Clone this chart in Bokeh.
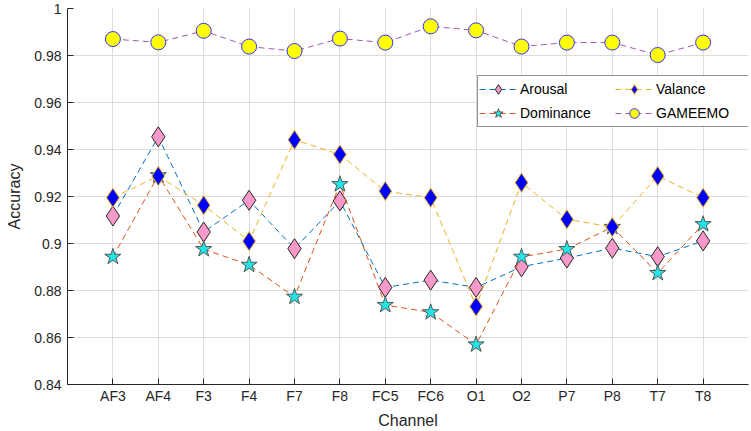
from bokeh.plotting import figure
from bokeh.models import FixedTicker, Legend, LegendItem, Range1d
from bokeh.embed import file_html
from bokeh.resources import INLINE

channels = ["AF3", "AF4", "F3", "F4", "F7", "F8", "FC5", "FC6", "O1", "O2", "P7", "P8", "T7", "T8"]
arousal = [0.9117, 0.9454, 0.9049, 0.9184, 0.8978, 0.9181, 0.8813, 0.8844, 0.8813, 0.8901, 0.8938, 0.8980, 0.8944, 0.9011]
dominance = [0.8943, 0.9290, 0.8976, 0.8909, 0.8773, 0.9252, 0.8738, 0.8707, 0.8570, 0.8943, 0.8976, 0.9070, 0.8874, 0.9082]
valance = [0.9195, 0.9287, 0.9163, 0.9010, 0.9441, 0.9379, 0.9223, 0.9195, 0.8732, 0.9259, 0.9103, 0.9070, 0.9287, 0.9195]
gameemo = [0.9870, 0.9856, 0.9905, 0.9838, 0.9819, 0.9872, 0.9855, 0.9924, 0.9907, 0.9838, 0.9855, 0.9855, 0.9802, 0.9855]
y_ticks = [0.84, 0.86, 0.88, 0.9, 0.92, 0.94, 0.96, 0.98, 1.0]
y_tick_labels = ["0.84", "0.86", "0.88", "0.9", "0.92", "0.94", "0.96", "0.98", "1"]

xs = list(range(1, len(channels) + 1))
FONT = "Liberation Sans"

p = figure(width=751, height=431, output_backend="svg", toolbar_location=None,
           x_range=Range1d(0, 15), y_range=Range1d(0.84, 1.0),
           min_border_left=67, min_border_right=3, min_border_top=8, min_border_bottom=47)
p.outline_line_color = None
p.background_fill_color = "white"
p.border_fill_color = "white"

for ax in (p.xaxis[0], p.yaxis[0]):
    ax.axis_line_color = "#262626"
    ax.axis_line_width = 1
    ax.major_tick_line_color = "#262626"
    ax.major_tick_in = 6
    ax.major_tick_out = 0
    ax.minor_tick_line_color = None
    ax.major_label_text_font = FONT
    ax.major_label_text_font_size = "14px"
    ax.major_label_text_color = "#262626"
    ax.axis_label_text_font = FONT
    ax.axis_label_text_font_size = "16px"
    ax.axis_label_text_font_style = "normal"
    ax.axis_label_text_color = "#262626"

p.xaxis.ticker = FixedTicker(ticks=xs)
p.xaxis.major_label_overrides = {x: c for x, c in zip(xs, channels)}
p.xaxis.axis_label = "Channel"
p.xaxis.major_label_standoff = 3
p.xaxis.axis_label_standoff = 5
p.yaxis.ticker = FixedTicker(ticks=y_ticks)
p.yaxis.major_label_overrides = {t: l for t, l in zip(y_ticks, y_tick_labels)}
p.yaxis.axis_label = "Accuracy"
p.yaxis.major_label_standoff = 6
p.yaxis.axis_label_standoff = 8

p.xgrid.grid_line_color = "#dcdcdc"
p.ygrid.grid_line_color = "#dcdcdc"

series = [
    ("Arousal", arousal, "#0072BD", "diamond", 20, "#F799C9", "#262626"),
    ("Dominance", dominance, "#D95319", "star", 17, "#22E5E8", "#555555"),
    ("Valance", valance, "#EDB120", "diamond", 19, "#0000FF", "#EDB120"),
    ("GAMEEMO", gameemo, "#9E5AB0", "circle", 15, "#FFFF00", "#3333FF"),
]

items = {}
for name, vals, lc, marker, size, fc, ec in series:
    ln = p.line(xs, vals, line_color=lc, line_width=1, line_dash="6 4")
    sc = p.scatter(xs, vals, marker=marker, size=size, fill_color=fc, line_color=ec, line_width=1)
    items[name] = LegendItem(label=name, renderers=[ln, sc])

legend = Legend(items=[items["Arousal"], items["Dominance"], items["Valance"], items["GAMEEMO"]],
                ncols=2, location=(410, 257),
                label_text_font=FONT, label_text_font_size="14px", label_text_color="#000000",
                glyph_width=38, glyph_height=24, label_width=95, spacing=-2,
                padding=1, margin=0, label_standoff=3,
                border_line_color="#262626", border_line_width=1,
                background_fill_alpha=1.0)
p.add_layout(legend)

open("out.html", "w").write(file_html(p, INLINE))
